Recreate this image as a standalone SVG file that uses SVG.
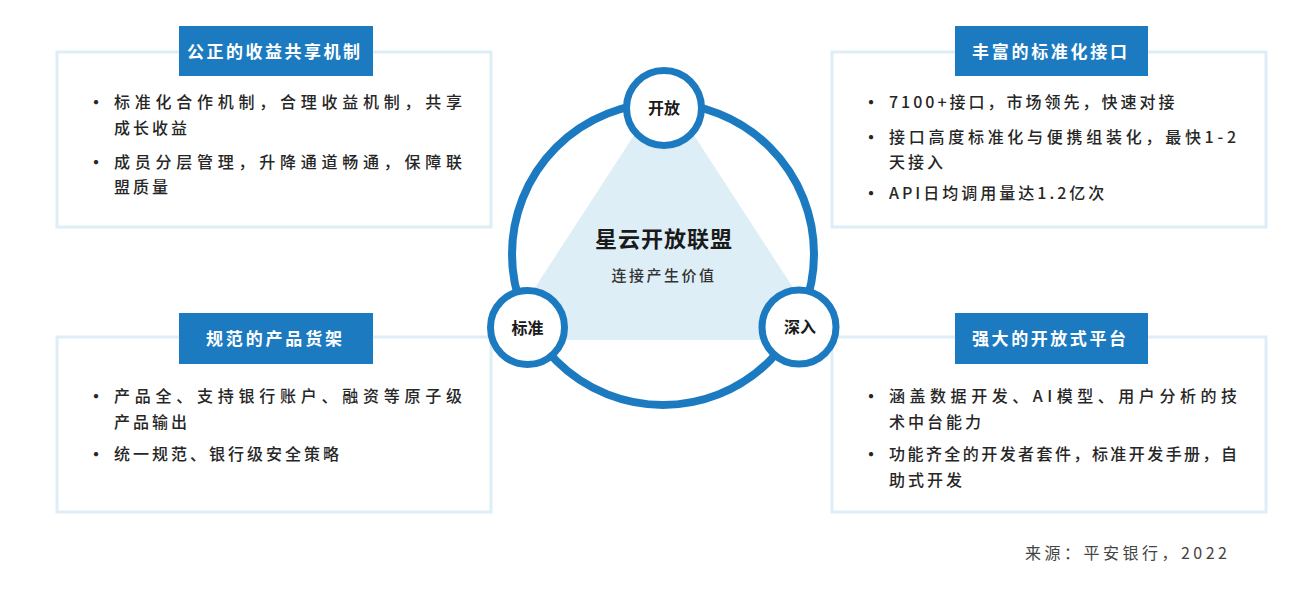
<svg xmlns="http://www.w3.org/2000/svg" width="1310" height="604" viewBox="0 0 1310 604">
<style>
.panel{fill:#ffffff;stroke:#deeef7;stroke-width:3}
.tag{fill:#1c7bc0}
.tagt{font-family:"Noto Sans CJK SC","Noto Sans",sans-serif;font-size:17px;font-weight:700;fill:#ffffff}
.body{font-family:"Noto Sans CJK SC","Noto Sans",sans-serif;font-size:16px;font-weight:500;fill:#262626;letter-spacing:3px}
.just{letter-spacing:0}
.bul{font-family:"Noto Sans CJK SC","Noto Sans",sans-serif;font-size:20px;fill:#262626;text-anchor:middle}
.node{fill:#ffffff;stroke:#1c7bc0;stroke-width:7}
.nodet{font-family:"Noto Sans CJK SC","Noto Sans",sans-serif;font-size:16px;font-weight:700;fill:#1a1a1a;text-anchor:middle}
</style>
<rect width="1310" height="604" fill="#ffffff"/>

<g id="panel-share">
<rect class="panel" x="57" y="52" width="434" height="175"/>
<rect class="tag" x="179" y="26" width="194" height="50"/>
<text class="tagt" x="187" y="58" textLength="173" lengthAdjust="spacing">公正的收益共享机制</text>
<text class="bul" x="96" y="110">•</text>
<text class="body just" x="114" y="108" textLength="348" lengthAdjust="spacing">标准化合作机制，合理收益机制，共享</text>
<text class="body" x="114" y="134">成长收益</text>
<text class="bul" x="96" y="170">•</text>
<text class="body just" x="114" y="168" textLength="348" lengthAdjust="spacing">成员分层管理，升降通道畅通，保障联</text>
<text class="body" x="114" y="193">盟质量</text>
</g>

<g id="panel-interface">
<rect class="panel" x="832" y="52" width="434" height="175"/>
<rect class="tag" x="955" y="26" width="193" height="50"/>
<text class="tagt" x="972" y="58" textLength="155" lengthAdjust="spacing">丰富的标准化接口</text>
<text class="bul" x="871" y="110">•</text>
<text class="body" x="889" y="108">7100+接口，市场领先，快速对接</text>
<text class="bul" x="871" y="145">•</text>
<text class="body just" x="889" y="143" textLength="347" lengthAdjust="spacing">接口高度标准化与便携组装化，最快1-2</text>
<text class="body" x="889" y="168">天接入</text>
<text class="bul" x="871" y="201">•</text>
<text class="body" x="889" y="199">API日均调用量达1.2亿次</text>
</g>

<g id="panel-shelf">
<rect class="panel" x="57" y="337" width="434" height="175"/>
<rect class="tag" x="179" y="313" width="194" height="51"/>
<text class="tagt" x="206" y="345" textLength="136" lengthAdjust="spacing">规范的产品货架</text>
<text class="bul" x="96" y="404">•</text>
<text class="body just" x="114" y="402" textLength="348" lengthAdjust="spacing">产品全、支持银行账户、融资等原子级</text>
<text class="body" x="114" y="428">产品输出</text>
<text class="bul" x="96" y="462">•</text>
<text class="body" x="114" y="460">统一规范、银行级安全策略</text>
</g>

<g id="panel-platform">
<rect class="panel" x="832" y="337" width="434" height="175"/>
<rect class="tag" x="955" y="313" width="193" height="51"/>
<text class="tagt" x="972" y="345" textLength="154" lengthAdjust="spacing">强大的开放式平台</text>
<text class="bul" x="871" y="404">•</text>
<text class="body just" x="889" y="402" textLength="348" lengthAdjust="spacing">涵盖数据开发、AI模型、用户分析的技</text>
<text class="body" x="889" y="428">术中台能力</text>
<text class="bul" x="871" y="462">•</text>
<text class="body just" x="889" y="460" textLength="348" lengthAdjust="spacing">功能齐全的开发者套件，标准开发手册，自</text>
<text class="body" x="889" y="486">助式开发</text>
</g>

<g id="center">
<polygon points="664,89 501,340 827,340" fill="#deeef6"/>
<text x="664" y="247" text-anchor="middle" font-family="'Noto Sans CJK SC','Noto Sans',sans-serif" font-size="22" font-weight="700" fill="#1a1a1a" letter-spacing="1">星云开放联盟</text>
<text x="664" y="281" text-anchor="middle" font-family="'Noto Sans CJK SC','Noto Sans',sans-serif" font-size="15" font-weight="500" fill="#333333" letter-spacing="2.5">连接产生价值</text>
</g>

<g id="connectors">
<circle cx="663" cy="254" r="151" fill="none" stroke="#1c7bc0" stroke-width="8"/>
</g>

<g id="node-open">
<circle class="node" cx="664" cy="108" r="37.5"/>
<text class="nodet" x="664" y="114">开放</text>
</g>
<g id="node-standard">
<circle class="node" cx="527.5" cy="327.5" r="37"/>
<text class="nodet" x="527.5" y="333.5">标准</text>
</g>
<g id="node-deep">
<circle class="node" cx="799" cy="327" r="37"/>
<text class="nodet" x="800" y="333">深入</text>
</g>

<g id="source">
<text x="1025" y="559" font-family="'Noto Sans CJK SC','Noto Sans',sans-serif" font-size="16" fill="#444444" textLength="202" lengthAdjust="spacing">来源：平安银行，2022</text>
</g>
</svg>
